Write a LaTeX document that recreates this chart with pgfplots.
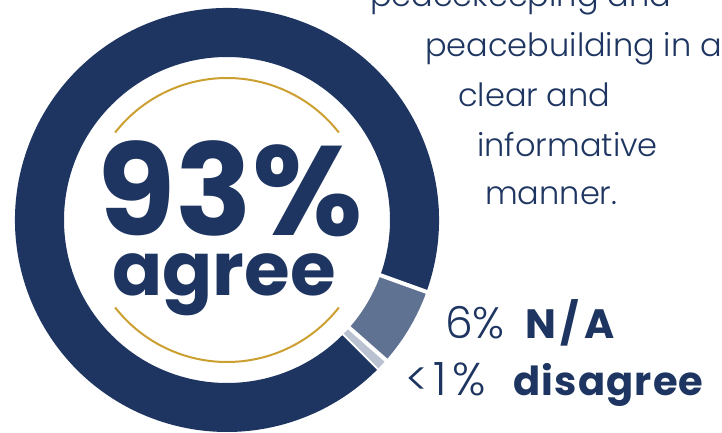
\documentclass[border=0pt]{standalone}
\usepackage{pgfplots}
\usepackage{pgfplotstable}
\pgfplotsset{compat=1.18}
\usepackage{fontspec}
\setmainfont{Poppins}
\newfontfamily\lightf{Poppins Light}
\definecolor{navy}{RGB}{29,53,96}
\definecolor{slate}{RGB}{96,114,146}
\definecolor{pale}{RGB}{186,194,209}
\definecolor{gold}{RGB}{204,160,48}
\colorlet{seg0}{pale}
\colorlet{seg1}{slate}
\colorlet{seg2}{navy}

% shares in percent, drawn counterclockwise from -45 degrees
\pgfplotstableread{
label value
disagree 1
na 6
agree 93
}\shares

\begin{document}
\begin{tikzpicture}
\begin{axis}[
    scale only axis,
    width=722pt, height=432pt,
    xmin=0, xmax=722, ymin=0, ymax=432,
    axis lines=none,
    clip=false,
]
\def\cx{227}
\def\cy{212}
\def\startangle{-45}
\pgfplotsforeachungrouped \i in {0,1,2} {
    \pgfplotstablegetelem{\i}{value}\of\shares
    \pgfmathsetmacro{\endangle}{\startangle+3.6*\pgfplotsretval}
    \edef\temp{\noexpand\fill[seg\i] (axis cs:\cx,\cy) ++(\startangle:212pt)
        arc[start angle=\startangle, end angle=\endangle, radius=212pt]
        -- ++(\endangle+180:49pt)
        arc[start angle=\endangle, end angle=\startangle, radius=163pt] -- cycle;
        \noexpand\draw[white, line width=4pt] (axis cs:\cx,\cy) ++(\startangle:150pt) -- ++(\startangle:75pt);}
    \temp
    \global\let\startangle\endangle
}
% gold arcs
\draw[gold, line width=2pt] (axis cs:\cx,\cy) ++(38:142pt) arc[start angle=38, end angle=142, radius=142pt];
\draw[gold, line width=2pt] (axis cs:\cx,\cy) ++(-142:142pt) arc[start angle=-142, end angle=-38, radius=142pt];

\node[navy, anchor=base, inner sep=0] at (axis cs:230,197) {\bfseries\fontsize{127}{127}\selectfont 93\%};
\node[navy, anchor=base, inner sep=0] at (axis cs:224,137) {\bfseries\fontsize{74}{74}\selectfont agree};

\begin{scope}[every node/.style={navy, anchor=base west, inner sep=0, font=\lightf\fontsize{32}{32}\selectfont}]
\node at (axis cs:370,425) {peacekeeping and};
\node at (axis cs:425,375) {peacebuilding in a};
\node at (axis cs:458,326) {clear and};
\node at (axis cs:477,276) {informative};
\node at (axis cs:485,228) {manner.};
\end{scope}

\node[navy, anchor=base west, inner sep=0] at (axis cs:445,94) {\lightf\fontsize{44}{44}\selectfont 6\%};
\node[navy, anchor=base west, inner sep=0] at (axis cs:525,94) {\bfseries\fontsize{41}{41}\selectfont\addfontfeature{LetterSpace=12}N/A};
\node[navy, anchor=base west, inner sep=0] at (axis cs:405,37) {\lightf\fontsize{46}{46}\selectfont\addfontfeature{LetterSpace=12}<1\%};
\node[navy, anchor=base west, inner sep=0] at (axis cs:513,37) {\bfseries\fontsize{40}{40}\selectfont\addfontfeature{LetterSpace=3}disagree};
\end{axis}
\pgfresetboundingbox
\useasboundingbox (0,0) rectangle (722pt,432pt);
\end{tikzpicture}
\end{document}
